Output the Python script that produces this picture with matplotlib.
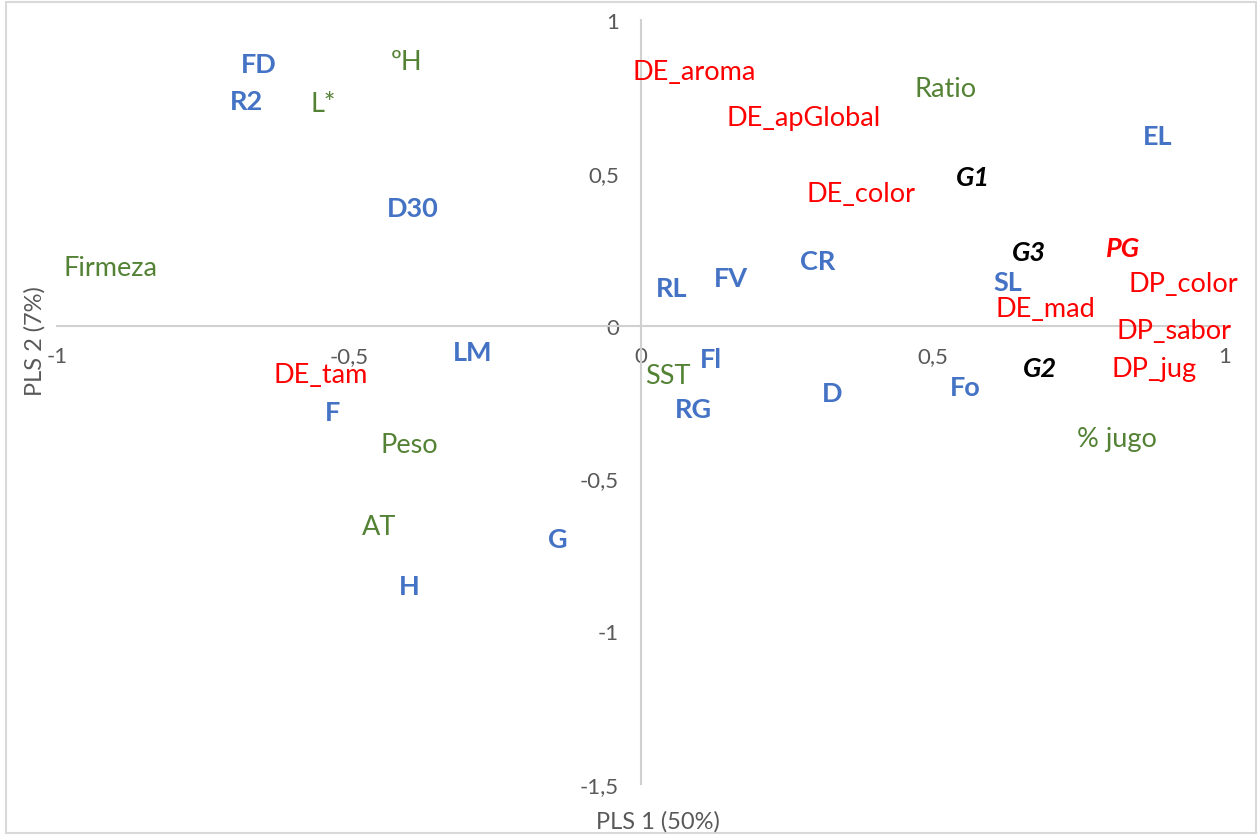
import matplotlib.pyplot as plt
from matplotlib.patches import Rectangle

# etiquetas del biplot PLS y sus coordenadas
etiquetas = ['FD', 'R2', 'L*', 'ºH', 'D30', 'Firmeza', 'LM', 'DE_tam', 'F', 'Peso',
             'AT', 'G', 'H', 'DE_aroma', 'DE_apGlobal', 'Ratio', 'EL', 'G1', 'DE_color',
             'G3', 'PG', 'CR', 'FV', 'RL', 'SL', 'DP_color', 'DE_mad', 'DP_sabor', 'Fl',
             'SST', 'G2', 'DP_jug', 'D', 'RG', 'Fo', '% jugo']
pls1 = [-0.654, -0.676, -0.545, -0.401, -0.390, -0.909, -0.289, -0.548, -0.529, -0.396,
        -0.449, -0.142, -0.396, 0.091, 0.279, 0.522, 0.885, 0.568, 0.377,
        0.664, 0.825, 0.303, 0.154, 0.053, 0.628, 0.928, 0.693, 0.913, 0.120,
        0.046, 0.683, 0.878, 0.327, 0.089, 0.555, 0.815]
pls2 = [0.856, 0.735, 0.728, 0.865, 0.384, 0.191, -0.087, -0.159, -0.283, -0.388,
        -0.656, -0.699, -0.852, 0.833, 0.682, 0.777, 0.620, 0.486, 0.433,
        0.241, 0.254, 0.211, 0.155, 0.123, 0.142, 0.139, 0.057, -0.015, -0.110,
        -0.162, -0.139, -0.139, -0.221, -0.273, -0.201, -0.368]
# tipo de variable: x = bloque X, q = fisicoquimica, s = sensorial, p = PG, g = grupos
tipo = ['x', 'x', 'q', 'q', 'x', 'q', 'x', 's', 'x', 'q',
        'q', 'x', 'x', 's', 's', 'q', 'x', 'g', 's',
        'g', 'p', 'x', 'x', 'x', 'x', 's', 's', 's', 'x',
        'q', 'g', 's', 'x', 'x', 'x', 'q']

xticks = [-1, -0.5, 0, 0.5, 1]
xtick_labels = ['-1', '-0,5', '0', '0,5', '1']
yticks = [-1.5, -1, -0.5, 0, 0.5, 1]
ytick_labels = ['-1,5', '-1', '-0,5', '0', '0,5', '1']

estilos = {
    'x': dict(color='#4472C4', fontweight='bold', fontstyle='normal'),
    'q': dict(color='#548235', fontweight='normal', fontstyle='normal'),
    's': dict(color='#FF0000', fontweight='normal', fontstyle='normal'),
    'p': dict(color='#FF0000', fontweight='bold', fontstyle='italic'),
    'g': dict(color='black', fontweight='bold', fontstyle='italic'),
}

plt.rcParams['font.family'] = ['Lato', 'DejaVu Sans']

fig = plt.figure(figsize=(12.58, 8.37), dpi=100)
ax = fig.add_axes([57/1258, 52/837, 1168/1258, 764/837])

for i in range(len(etiquetas)):
    ax.text(pls1[i], pls2[i], etiquetas[i], ha='center', va='center',
            fontsize=19.5, **estilos[tipo[i]])

ax.set_xlim(-1, 1)
ax.set_ylim(-1.5, 1)
ax.spines['left'].set_position(('data', 0))
ax.spines['bottom'].set_position(('data', 0))
ax.spines['right'].set_visible(False)
ax.spines['top'].set_visible(False)
for s in ['left', 'bottom']:
    ax.spines[s].set_color('#D0D0D0')
    ax.spines[s].set_linewidth(1.5)

ax.set_xticks(xticks)
ax.set_xticklabels(xtick_labels)
ax.set_yticks(yticks)
ax.set_yticklabels(ytick_labels)
ax.tick_params(axis='both', length=0, labelsize=16, labelcolor='#595959')
ax.tick_params(axis='x', pad=15)
ax.tick_params(axis='y', pad=16)

fig.text(658/1258, 1 - 822/837, 'PLS 1 (50%)', ha='center', va='center',
         fontsize=17, color='#595959')
fig.text(35/1258, 1 - 341/837, 'PLS 2 (7%)', ha='center', va='center',
         fontsize=17, color='#595959', rotation=90)

fig.patches.append(Rectangle((6/1258, 3/837), 1250/1258, 831/837,
                             transform=fig.transFigure, fill=False,
                             edgecolor='#D9D9D9', linewidth=1.5))

fig.savefig('out.png', dpi=100)
